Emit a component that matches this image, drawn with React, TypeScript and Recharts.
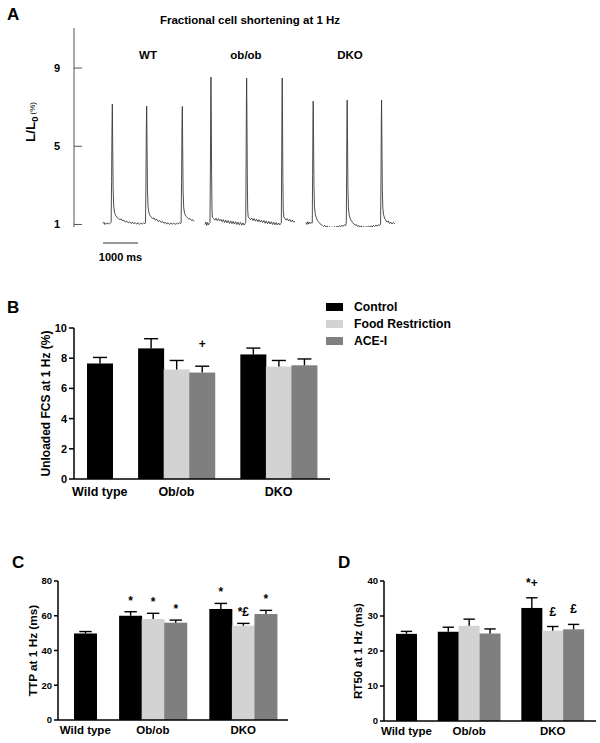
import React from "react";
import { LineChart, Line, XAxis, YAxis, ReferenceLine, BarChart, Bar, Legend } from "recharts";

const FONT = 'Arial, "Liberation Sans", Helvetica, sans-serif';

// ---- panel A: cell shortening traces, [time ms, L/L0 %] ----
const traceTicks = [1, 5, 9];

const wtTrace: [number, number][] = [
    [0, 1.05], [25, 1.12], [50, 1.0], [80, 1.06], [110, 1.02], [150, 1.08], [190, 1.03], [215, 1.07],
    [232, 1.1], [245, 3.2], [256, 6.0], [266, 7.16], [276, 5.2], [288, 2.9], [305, 1.95], [330, 1.6],
    [365, 1.45], [400, 1.36], [440, 1.3], [480, 1.25], [520, 1.28], [560, 1.18], [600, 1.22], [640, 1.12],
    [680, 1.17], [720, 1.08], [760, 1.14], [800, 1.05], [840, 1.12], [880, 1.03], [920, 1.1], [960, 1.02],
    [1000, 1.09], [1040, 1.0], [1080, 1.07], [1120, 1.02], [1160, 1.08], [1200, 1.04], [1214, 1.1],
    [1226, 3.0], [1238, 5.9], [1248, 7.06], [1258, 5.1], [1270, 2.8], [1288, 1.9], [1312, 1.6],
    [1345, 1.45], [1380, 1.38], [1420, 1.3], [1460, 1.33], [1500, 1.22], [1540, 1.26], [1580, 1.15],
    [1620, 1.2], [1660, 1.1], [1700, 1.16], [1740, 1.06], [1780, 1.12], [1820, 1.02], [1860, 1.09],
    [1900, 1.0], [1940, 1.07], [1980, 1.01], [2020, 1.08], [2060, 1.0], [2100, 1.06], [2140, 1.02],
    [2180, 1.09], [2220, 1.05], [2233, 1.1], [2245, 3.1], [2257, 6.0], [2267, 7.04], [2277, 5.0],
    [2289, 2.7], [2307, 1.85], [2335, 1.55], [2370, 1.42], [2410, 1.35], [2450, 1.28], [2490, 1.3],
    [2530, 1.2], [2570, 1.24], [2600, 1.16],
];

const obTrace: [number, number][] = [
    [2914, 1.0], [2940, 1.12], [2965, 0.95], [2990, 1.1], [3015, 0.98], [3040, 1.06], [3058, 1.1],
    [3070, 4.0], [3080, 7.4], [3086, 8.54], [3094, 6.8], [3104, 3.6], [3116, 1.7], [3130, 1.36],
    [3160, 1.3], [3195, 1.22], [3230, 1.32], [3265, 1.2], [3300, 1.3], [3335, 1.18], [3370, 1.26],
    [3405, 1.14], [3440, 1.25], [3475, 1.1], [3510, 1.22], [3545, 1.08], [3580, 1.2], [3615, 1.05],
    [3650, 1.18], [3685, 1.04], [3720, 1.16], [3755, 1.02], [3790, 1.14], [3825, 1.0], [3860, 1.12],
    [3895, 0.98], [3930, 1.1], [3965, 0.96], [4000, 1.08], [4035, 0.97], [4065, 1.05], [4080, 1.1],
    [4090, 4.2], [4100, 7.5], [4106, 8.49], [4114, 6.7], [4124, 3.5], [4136, 1.75], [4150, 1.4],
    [4180, 1.32], [4215, 1.25], [4250, 1.33], [4285, 1.2], [4320, 1.3], [4355, 1.17], [4390, 1.27],
    [4425, 1.14], [4460, 1.24], [4495, 1.12], [4530, 1.22], [4565, 1.1], [4600, 1.2], [4635, 1.06],
    [4670, 1.18], [4705, 1.04], [4740, 1.16], [4775, 1.02], [4810, 1.14], [4845, 1.0], [4880, 1.12],
    [4915, 0.98], [4950, 1.1], [4985, 0.97], [5020, 1.08], [5055, 0.98], [5085, 1.05], [5097, 1.1],
    [5107, 4.1], [5117, 7.4], [5123, 8.49], [5131, 6.6], [5141, 3.4], [5153, 1.7], [5170, 1.38],
    [5200, 1.3], [5235, 1.22], [5270, 1.3], [5305, 1.18], [5340, 1.26], [5375, 1.14], [5410, 1.22],
    [5445, 1.12], [5486, 1.16],
];

const dkoTrace: [number, number][] = [
    [5800, 1.1], [5825, 1.0], [5850, 1.14], [5875, 1.02], [5900, 1.12], [5925, 1.05], [5950, 1.1],
    [5970, 1.06], [5982, 1.12], [5992, 3.5], [6001, 6.3], [6009, 7.31], [6018, 5.6], [6030, 3.0],
    [6045, 1.9], [6065, 1.55], [6095, 1.35], [6130, 1.2], [6165, 1.12], [6200, 1.04], [6235, 1.0],
    [6270, 0.95], [6305, 0.9], [6340, 0.96], [6375, 0.86], [6410, 0.92], [6445, 0.82], [6480, 0.9],
    [6515, 0.8], [6550, 0.88], [6585, 0.82], [6620, 0.9], [6655, 0.84], [6690, 0.92], [6725, 0.86],
    [6760, 0.94], [6795, 0.88], [6830, 0.96], [6865, 0.9], [6900, 0.98], [6935, 0.95], [6955, 1.05],
    [6964, 3.6], [6973, 6.4], [6980, 7.36], [6989, 5.5], [7001, 2.9], [7016, 1.85], [7036, 1.5],
    [7066, 1.3], [7100, 1.18], [7135, 1.1], [7170, 1.02], [7205, 0.96], [7240, 1.0], [7275, 0.9],
    [7310, 0.95], [7345, 0.86], [7380, 0.92], [7415, 0.84], [7450, 0.9], [7485, 0.83], [7520, 0.9],
    [7555, 0.85], [7590, 0.92], [7625, 0.86], [7660, 0.93], [7695, 0.87], [7730, 0.95], [7765, 0.89],
    [7800, 0.97], [7835, 0.92], [7870, 0.98], [7905, 0.95], [7935, 1.02], [7947, 3.5], [7956, 6.3],
    [7963, 7.36], [7972, 5.4], [7984, 2.9], [7999, 1.85], [8020, 1.5], [8050, 1.32], [8085, 1.2],
    [8120, 1.12], [8155, 1.18], [8190, 1.05], [8225, 1.12], [8260, 1.02], [8300, 1.1], [8343, 1.04],
];

// ---- panels B-D: grouped bars, mean and SEM ----
const groupNames = ["Wild type", "Ob/ob", "DKO"];
const seriesNames = ["Control", "Food Restriction", "ACE-I"];
const seriesColors = ["#000000", "#d3d3d3", "#7f7f7f"];

const fcsMean = [[7.65], [8.65, 7.25, 7.05], [8.25, 7.45, 7.53]];
const fcsSem = [[0.4], [0.64, 0.6, 0.42], [0.42, 0.4, 0.42]];
const fcsMarks = [[""], ["", "", "+"], ["", "", ""]];
const fcsTicks = [0, 2, 4, 6, 8, 10];

const ttpMean = [[49.8], [60.0, 58.1, 56.0], [63.9, 54.3, 61.0]];
const ttpSem = [[1.1], [2.3, 3.3, 1.5], [3.2, 1.3, 2.1]];
const ttpMarks = [[""], ["*", "*", "*"], ["*", "*£", "*"]];
const ttpTicks = [0, 20, 40, 60, 80];

const rtMean = [[24.9], [25.5, 27.2, 25.0], [32.3, 25.8, 26.2]];
const rtSem = [[0.7], [1.3, 1.9, 1.3], [2.9, 1.2, 1.4]];
const rtMarks = [[""], ["", "", ""], ["*+", "£", "£"]];
const rtTicks = [0, 10, 20, 30, 40];

const toPoints = (arr: [number, number][]) => arr.map(([t, v]) => ({ t, v }));
const traces = [wtTrace, obTrace, dkoTrace].map(toPoints);

// one slot per bar, an empty slot between groups
function buildRows(mean: number[][], sem: number[][], marks: string[][]) {
    const rows: any[] = [];
    groupNames.forEach((g, gi) => {
        if (gi > 0) rows.push({ id: "gap" + gi, tick: "", value: null, sem: null, mark: "", color: "none" });
        mean[gi].forEach((v, si) => {
            rows.push({
                id: gi + "-" + si,
                tick: si === Math.floor(mean[gi].length / 2) ? g : "",
                value: v,
                sem: sem[gi][si],
                mark: marks[gi][si],
                color: seriesColors[si],
            });
        });
    });
    return rows;
}

const BarWithError = (props: any) => {
    const { x, y, width, height, payload, gap } = props;
    if (!payload || payload.value == null || !height) return null;
    const pxPerUnit = height / payload.value;
    const top = y - payload.sem * pxPerUnit;
    const cx = x + width / 2;
    return (
        <g>
            <rect x={x} y={y} width={width} height={height} fill={payload.color} />
            <line x1={cx} x2={cx} y1={y} y2={top} stroke="#000" strokeWidth={1.4} />
            <line x1={cx - width * 0.27} x2={cx + width * 0.27} y1={top} y2={top} stroke="#000" strokeWidth={1.4} />
            {payload.mark ? (
                <text x={cx} y={top - gap} textAnchor="middle" fontSize={12} fontWeight="bold" fill="#000">
                    {payload.mark}
                </text>
            ) : null}
        </g>
    );
};

const axisTitle = (text: string, x: number, size: number) => (props: any) => {
    const vb = props.viewBox;
    const cy = vb.y + vb.height / 2;
    return (
        <text x={x} y={cy} transform={`rotate(-90, ${x}, ${cy})`} textAnchor="middle" fontSize={size} fontWeight="bold" fill="#000">
            {text}
        </text>
    );
};

const legendContent = () => (
    <div style={{ fontFamily: FONT }}>
        {seriesNames.map((n, i) => (
            <div key={n} style={{ display: "flex", alignItems: "center", height: 17 }}>
                <span style={{ display: "inline-block", width: 17, height: 8, background: seriesColors[i], marginRight: 11 }} />
                <span style={{ fontSize: 12.2, fontWeight: "bold" }}>{n}</span>
            </div>
        ))}
    </div>
);

function GroupedBars(p: any) {
    const rows = buildRows(p.mean, p.sem, p.marks);
    const tickOf = (id: string) => (rows.find((r) => r.id === id) || {}).tick;
    return (
        <BarChart width={p.width} height={p.height} data={rows} margin={p.margin} barCategoryGap={0} barGap={0}>
            <XAxis
                dataKey="id"
                interval={0}
                tickFormatter={tickOf}
                tickLine={false}
                tickSize={0}
                tickMargin={p.xTickMargin}
                height={p.xHeight}
                padding={p.padding}
                axisLine={{ stroke: "#000", strokeWidth: 1.5 }}
                tick={{ fontSize: p.xFont, fontWeight: "bold", fill: "#000" }}
            />
            <YAxis
                domain={[0, p.ticks[p.ticks.length - 1]]}
                ticks={p.ticks}
                interval={0}
                width={p.yWidth}
                tickSize={p.yTickSize}
                tickMargin={2}
                axisLine={{ stroke: "#000", strokeWidth: 1.5 }}
                tickLine={{ stroke: "#000", strokeWidth: 1.5 }}
                tick={{ fontSize: p.yFont, fontWeight: "bold", fill: "#000" }}
                label={{ content: axisTitle(p.title, p.titleX, p.titleFont) }}
            />
            {p.legend ? (
                <Legend layout="vertical" align="center" verticalAlign="middle" content={legendContent} wrapperStyle={p.legend} />
            ) : null}
            <Bar dataKey="value" isAnimationActive={false} shape={(s: any) => <BarWithError {...s} gap={p.markGap} />} />
        </BarChart>
    );
}

const TraceTick = (props: any) => {
    const { x, y, payload } = props;
    return (
        <g>
            <line x1={x} x2={x + 8} y1={y} y2={y} stroke="#555" strokeWidth={1} />
            <text x={x - 17} y={y + 4} textAnchor="middle" fontSize={11} fontWeight="bold" fill="#000">
                {payload.value}
            </text>
        </g>
    );
};

const traceAxisLabel = () => (
    <text x={35} y={122} transform="rotate(-90, 35, 122)" textAnchor="middle" fill="#000">
        <tspan fontSize={13.5} fontWeight="bold">L/L</tspan>
        <tspan fontSize={9.5} fontWeight="bold" dy={3}>0</tspan>
        <tspan fontSize={8} dx={2} dy={-3}>(%)</tspan>
    </text>
);

export default function App() {
    return (
        <div style={{ position: "absolute", left: 0, top: 0, width: 600, height: 743, background: "#fff", fontFamily: FONT }}>
            <div style={{ position: "absolute", left: 0, top: 0 }}>
                <LineChart width={420} height={275} margin={{ top: 28, right: 20, bottom: 48, left: 44 }}>
                    <XAxis type="number" dataKey="t" domain={[-830, 8490]} hide allowDataOverflow />
                    <YAxis
                        type="number"
                        domain={[0.87, 11.05]}
                        ticks={traceTicks}
                        allowDataOverflow
                        width={30}
                        tickSize={0}
                        tickMargin={0}
                        tickLine={false}
                        axisLine={{ stroke: "#555", strokeWidth: 1 }}
                        tick={<TraceTick />}
                        label={{ content: traceAxisLabel }}
                    />
                    {traces.map((tr, i) => (
                        <Line
                            key={i}
                            data={tr}
                            dataKey="v"
                            type="linear"
                            stroke="#3a3a3a"
                            strokeWidth={0.9}
                            dot={false}
                            isAnimationActive={false}
                        />
                    ))}
                    <ReferenceLine
                        segment={[{ x: 0, y: 0.05 }, { x: 1000, y: 0.05 }]}
                        ifOverflow="visible"
                        stroke="#333"
                        strokeWidth={1}
                        label={{ value: "1000 ms", position: "bottom", offset: 10, fontSize: 11, fontWeight: "bold", fill: "#000" }}
                    />
                </LineChart>
            </div>

            <div style={{ position: "absolute", left: 0, top: 290 }}>
                <GroupedBars
                    mean={fcsMean} sem={fcsSem} marks={fcsMarks} ticks={fcsTicks}
                    width={480} height={220}
                    margin={{ top: 38, right: 150, bottom: 6, left: 34 }}
                    yWidth={40} yTickSize={5} yFont={11}
                    xHeight={25} xTickMargin={8} xFont={12.5}
                    padding={{ left: 13, right: 13 }}
                    title="Unloaded FCS at 1 Hz (%)" titleX={50} titleFont={12}
                    markGap={18}
                    legend={{ left: 326, top: 8, width: 150 }}
                />
            </div>

            <div style={{ position: "absolute", left: 0, top: 540 }}>
                <GroupedBars
                    mean={ttpMean} sem={ttpSem} marks={ttpMarks} ticks={ttpTicks}
                    width={300} height={203}
                    margin={{ top: 41, right: 12, bottom: 3, left: 23 }}
                    yWidth={35} yTickSize={4} yFont={9.5}
                    xHeight={20} xTickMargin={6} xFont={11.5}
                    padding={{ left: 16, right: 11 }}
                    title="TTP at 1 Hz (ms)" titleX={37} titleFont={11.8}
                    markGap={7}
                />
            </div>

            <div style={{ position: "absolute", left: 300, top: 540 }}>
                <GroupedBars
                    mean={rtMean} sem={rtSem} marks={rtMarks} ticks={rtTicks}
                    width={300} height={203}
                    margin={{ top: 41, right: 4, bottom: 2, left: 49 }}
                    yWidth={35} yTickSize={4} yFont={9.5}
                    xHeight={20} xTickMargin={6} xFont={11.5}
                    padding={{ left: 12, right: 12 }}
                    title="RT50 at 1 Hz (ms)" titleX={62} titleFont={11.5}
                    markGap={11}
                />
            </div>

            <svg width={600} height={743} style={{ position: "absolute", left: 0, top: 0, pointerEvents: "none" }}>
                <g fontWeight="bold" fill="#000">
                    <text x={7} y={20} fontSize={17}>A</text>
                    <text x={7} y={313} fontSize={17}>B</text>
                    <text x={12} y={568} fontSize={17}>C</text>
                    <text x={338} y={568} fontSize={17}>D</text>
                    <text x={250} y={24} fontSize={11.5} textAnchor="middle">Fractional cell shortening at 1 Hz</text>
                    <text x={148} y={59} fontSize={11.5} textAnchor="middle">WT</text>
                    <text x={246} y={59} fontSize={11.5} textAnchor="middle">ob/ob</text>
                    <text x={350} y={59} fontSize={11.5} textAnchor="middle">DKO</text>
                </g>
            </svg>
        </div>
    );
}
